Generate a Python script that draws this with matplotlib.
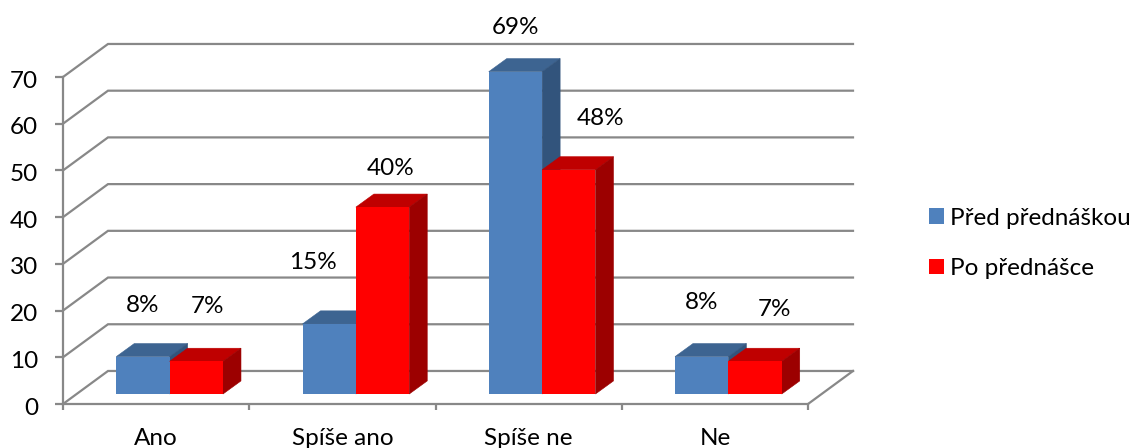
import matplotlib
matplotlib.use('Agg')
import matplotlib.pyplot as plt
from matplotlib.patches import Patch
from matplotlib.transforms import ScaledTranslation

categories = ['Ano', 'Spíše ano', 'Spíše ne', 'Ne']
pred = [8, 15, 69, 8]
po = [7, 40, 48, 7]
yticks = [0, 10, 20, 30, 40, 50, 60, 70]
series_names = ['Před přednáškou', 'Po přednášce']

plt.rcParams['font.family'] = ['Lato', 'Noto Sans', 'DejaVu Sans']

GRAY = '#888888'
LW = 1.6
FS = 17.5
# oblique offsets in data units (x = categories, y = values)
WALL_X, WALL_Y = 0.2416, 7.07
BASE_X, BASE_Y = 0.0725, 2.14
DEPTH_X, DEPTH_Y = 0.0966, 2.8
BAR_W = 0.2865

fig = plt.figure(figsize=(11.37, 4.48), dpi=100)
ax = fig.add_axes([63 / 1137, 44 / 448, 745 / 1137, 327 / 448])
ax.set_xlim(0, 4)
ax.set_ylim(0, 70)
for s in ax.spines.values():
    s.set_visible(False)
ax.spines['left'].set_visible(True)
ax.spines['bottom'].set_visible(True)
ax.spines['left'].set_color(GRAY)
ax.spines['bottom'].set_color(GRAY)
ax.spines['left'].set_linewidth(LW)
ax.spines['bottom'].set_linewidth(LW)

# back wall grid and the diagonals to the front axis
for v in yticks:
    ax.plot([0, WALL_X, 4 + WALL_X], [v, v + WALL_Y, v + WALL_Y], color=GRAY, lw=LW,
            clip_on=False, zorder=1, solid_joinstyle='miter')
ax.plot([4, 4 + WALL_X], [0, WALL_Y], color=GRAY, lw=LW, clip_on=False, zorder=1)


def box(x, val, front, top, side):
    y0 = BASE_Y
    ax.fill([x, x + DEPTH_X, x + BAR_W + DEPTH_X, x + BAR_W],
            [y0 + val, y0 + val + DEPTH_Y, y0 + val + DEPTH_Y, y0 + val],
            color=top, lw=0.4, zorder=3, clip_on=False)
    ax.fill([x + BAR_W, x + BAR_W + DEPTH_X, x + BAR_W + DEPTH_X, x + BAR_W],
            [y0, y0 + DEPTH_Y, y0 + val + DEPTH_Y, y0 + val],
            color=side, lw=0.4, zorder=3, clip_on=False)
    ax.bar(x, val, BAR_W, bottom=y0, align='edge', color=front, zorder=3, clip_on=False)


# label offsets from the bar's front top centre, in pixels (placed by hand in the original)
pred_off = [(0, 51), (-16, 61), (0, 44), (0, 54)]
po_off = [(11, 55), (8, 39), (32, 51), (19, 52)]

for i in range(len(categories)):
    left = i + 0.5 + BASE_X - BAR_W
    box(left, pred[i], '#4f81bd', '#3d6491', '#32547c')
    box(left + BAR_W, po[i], '#ff0000', '#bf0000', '#9c0000')
    ax.annotate(f'{pred[i]}%', (left + BAR_W / 2, BASE_Y + pred[i]), xytext=pred_off[i],
                textcoords='offset pixels', ha='center', va='center', fontsize=FS,
                color='black', annotation_clip=False, zorder=5)
    ax.annotate(f'{po[i]}%', (left + BAR_W * 1.5, BASE_Y + po[i]), xytext=po_off[i],
                textcoords='offset pixels', ha='center', va='center', fontsize=FS,
                color='black', annotation_clip=False, zorder=5)

ax.set_yticks(yticks)
ax.tick_params(axis='y', length=6, width=LW, color=GRAY, pad=12, labelsize=FS, labelcolor='black')
for lab in ax.get_yticklabels():
    lab.set_transform(lab.get_transform() + ScaledTranslation(0, -2 / 100, fig.dpi_scale_trans))
ax.set_xticks(range(5))
ax.set_xticklabels([])
ax.tick_params(axis='x', length=4.5, width=LW, color=GRAY)
for i, c in enumerate(categories):
    ax.annotate(c, (i + 0.5, 0), xytext=(0, -34), textcoords='offset pixels', ha='center',
                va='center', fontsize=FS, color='black', annotation_clip=False)

handles = [Patch(color='#4f81bd', lw=0), Patch(color='#ff0000', lw=0)]
fig.legend(handles, series_names, loc='upper left', bbox_to_anchor=(924 / 1137, 1 - 203 / 448),
           frameon=False, fontsize=FS, handlelength=0.62, handleheight=0.62, handletextpad=0.23,
           labelspacing=1.2, borderpad=0.2, borderaxespad=0, labelcolor='black')

fig.savefig('out.png', dpi=100)
